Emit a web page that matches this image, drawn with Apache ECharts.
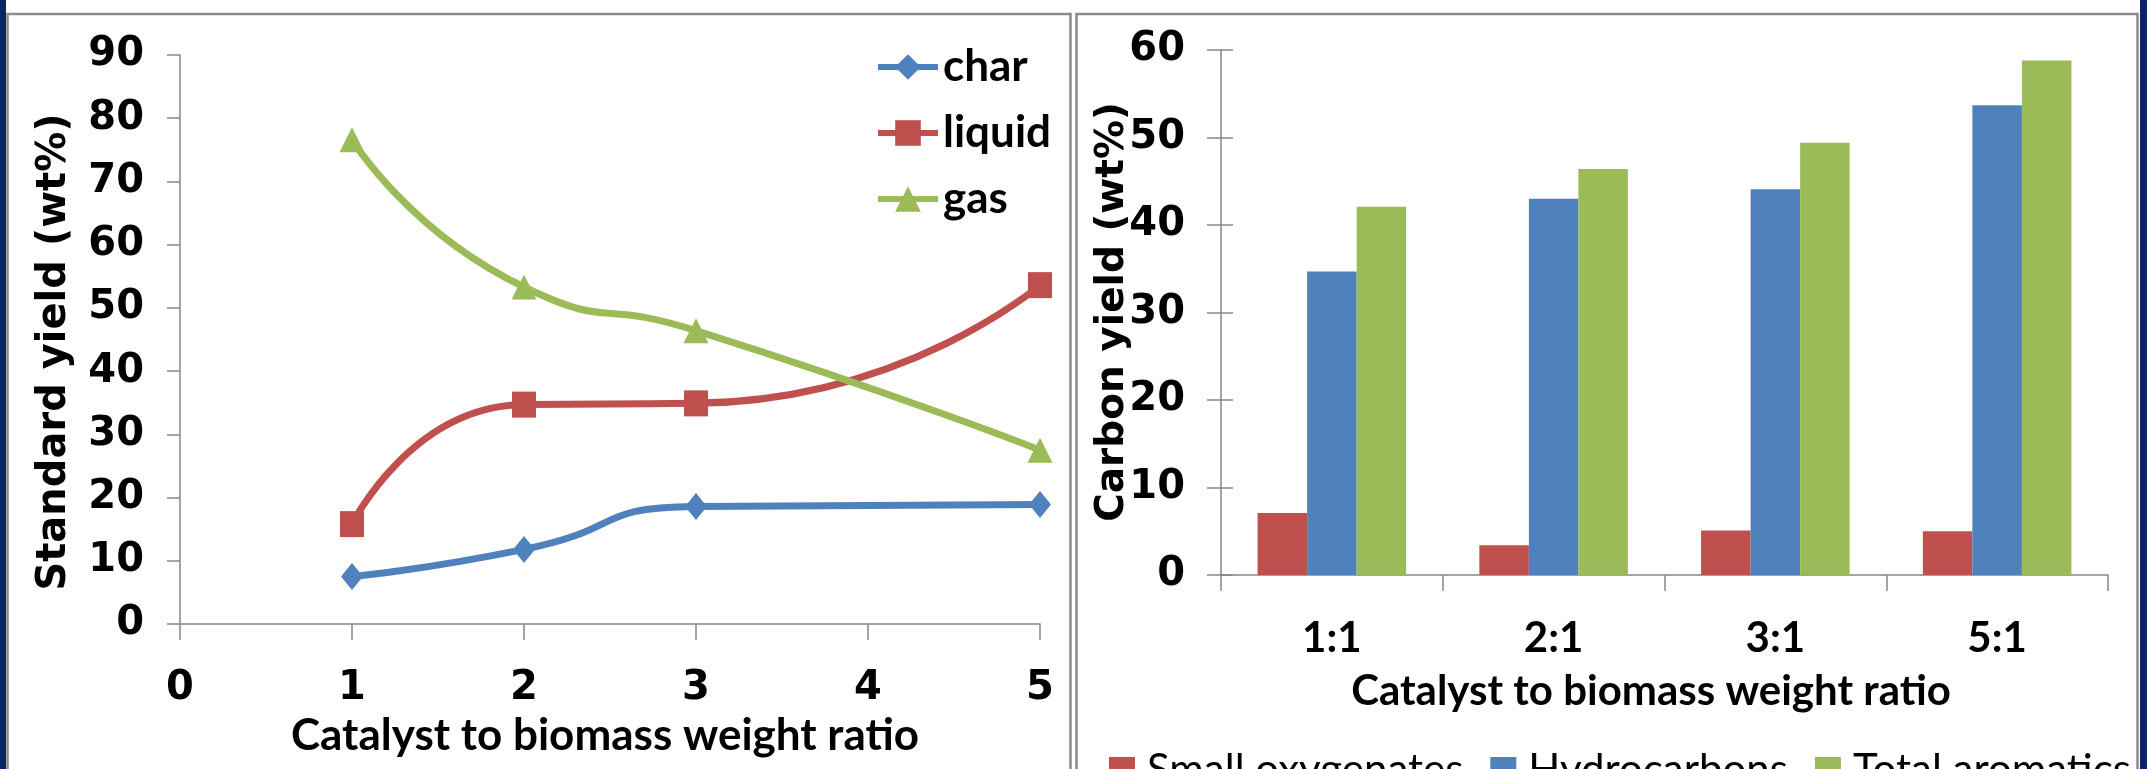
<!DOCTYPE html>
<html>
<head>
<meta charset="utf-8">
<script src="https://cdn.jsdelivr.net/npm/echarts@6/dist/echarts.min.js"></script>
<style>
html,body{margin:0;padding:0;background:#fff;}
#chart{width:2147px;height:769px;}
</style>
</head>
<body>
<div id="chart"></div>
<script>
// ---- Left chart data ----
const ratioX = [1, 2, 3, 5];
const charVals = [7.5, 11.8, 18.6, 18.9];
const liquidVals = [15.8, 34.7, 34.9, 53.6];
const gasVals = [76.6, 53.3, 46.4, 27.5];
const lineNames = ['char', 'liquid', 'gas'];

// ---- Right chart data ----
const categories = ['1:1', '2:1', '3:1', '5:1'];
const smallOxygenates = [7.1, 3.4, 5.1, 5.0];
const hydrocarbons = [34.7, 43.0, 44.1, 53.7];
const totalAromatics = [42.1, 46.4, 49.4, 58.8];
const barNames = ['Small oxygenates', 'Hydrocarbons', 'Total aromatics'];

// ---- Titles ----
const leftYTitle = 'Standard yield (wt%)';
const rightYTitle = 'Carbon yield (wt%)';
const xTitle = 'Catalyst to biomass weight ratio';

const BLUE = '#4F81BD', RED = '#C0504D', GREEN = '#9BBB59';
const AXIS = '#868686';
const TICKFONT = 'DejaVu Sans';

const chart = echarts.init(document.getElementById('chart'));

function pairs(xs, ys) { return xs.map((x, i) => [x, ys[i]]); }

const tickLabel = { color: '#000', fontFamily: TICKFONT, fontWeight: 'bold', fontSize: 40 };

const option = {
  backgroundColor: '#fff',
  animation: false,
  grid: [
    { left: 180, top: 55, width: 860, height: 569, containLabel: false },
    { left: 1221, top: 50, width: 887, height: 525, containLabel: false }
  ],
  xAxis: [
    {
      type: 'value', gridIndex: 0, min: 0, max: 5, interval: 1,
      axisLine: { lineStyle: { color: AXIS, width: 1.5 } },
      axisTick: { show: true, inside: false, length: 16, lineStyle: { color: AXIS, width: 1.5 } },
      splitLine: { show: false },
      axisLabel: Object.assign({ margin: 45 }, tickLabel)
    },
    {
      type: 'category', gridIndex: 1, data: categories,
      axisLine: { lineStyle: { color: AXIS, width: 1.5 } },
      axisTick: { show: true, inside: false, length: 16, alignWithLabel: false, lineStyle: { color: AXIS, width: 1.5 } },
      axisLabel: { margin: 42, color: '#000', fontFamily: 'Lato', fontWeight: 'bold', fontSize: 42 }
    }
  ],
  yAxis: [
    {
      type: 'value', gridIndex: 0, min: 0, max: 90, interval: 10,
      axisLine: { show: true, lineStyle: { color: AXIS, width: 1.5 } },
      axisTick: { show: true, inside: false, length: 13, lineStyle: { color: AXIS, width: 1.5 } },
      splitLine: { show: false },
      axisLabel: Object.assign({ margin: 36 }, tickLabel)
    },
    {
      type: 'value', gridIndex: 1, min: 0, max: 60, interval: 10, position: 'left',
      axisLine: { show: true, lineStyle: { color: AXIS, width: 1.5 } },
      axisTick: { show: true, inside: false, length: 14, lineStyle: { color: AXIS, width: 1.5 } },
      splitLine: { show: false },
      axisLabel: Object.assign({ margin: 36 }, tickLabel)
    },
    {
      type: 'value', gridIndex: 1, min: 0, max: 60, interval: 10, position: 'left', offset: 0,
      axisLine: { show: false },
      axisTick: { show: true, inside: true, length: 12, lineStyle: { color: AXIS, width: 1.5 } },
      splitLine: { show: false },
      axisLabel: { show: false }
    }
  ],
  legend: [
    {
      data: lineNames,
      orient: 'vertical', left: 870, top: 40,
      itemWidth: 60, itemHeight: 32, itemGap: 22,
      lineStyle: { width: 6 },
      textStyle: { color: '#000', fontFamily: 'Lato', fontWeight: 'bold', fontSize: 44, lineHeight: 26 }
    },
    {
      data: barNames,
      orient: 'horizontal', left: 1104, top: 744,
      itemWidth: 26, itemHeight: 26, itemGap: 27,
      icon: 'rect',
      textStyle: { color: '#000', fontFamily: 'Lato', fontSize: 42, lineHeight: 26, padding: [0, 0, 0, 7] }
    }
  ],
  series: [
    {
      name: 'char', type: 'line', xAxisIndex: 0, yAxisIndex: 0,
      data: pairs(ratioX, charVals), smooth: 0.6,
      symbol: 'diamond', symbolSize: [22, 27],
      lineStyle: { color: BLUE, width: 7 }, itemStyle: { color: BLUE }
    },
    {
      name: 'liquid', type: 'line', xAxisIndex: 0, yAxisIndex: 0,
      data: pairs(ratioX, liquidVals), smooth: 0.6,
      symbol: 'rect', symbolSize: [24, 26],
      lineStyle: { color: RED, width: 7 }, itemStyle: { color: RED }
    },
    {
      name: 'gas', type: 'line', xAxisIndex: 0, yAxisIndex: 0,
      data: pairs(ratioX, gasVals), smooth: 0.6,
      symbol: 'triangle', symbolSize: [25, 25],
      lineStyle: { color: GREEN, width: 7 }, itemStyle: { color: GREEN }
    },
    {
      name: 'Small oxygenates', type: 'bar', xAxisIndex: 1, yAxisIndex: 1,
      data: smallOxygenates, barGap: '0%', barCategoryGap: '33%',
      itemStyle: { color: RED }
    },
    {
      name: 'Hydrocarbons', type: 'bar', xAxisIndex: 1, yAxisIndex: 1,
      data: hydrocarbons, barGap: '0%', barCategoryGap: '33%',
      itemStyle: { color: BLUE }
    },
    {
      name: 'Total aromatics', type: 'bar', xAxisIndex: 1, yAxisIndex: 1,
      data: totalAromatics, barGap: '0%', barCategoryGap: '33%',
      itemStyle: { color: GREEN }
    }
  ],
  graphic: [
    { type: 'rect', z: -10, shape: { x: 0, y: 0, width: 6, height: 769 }, style: { fill: '#0B2468' } },
    { type: 'rect', z: -10, shape: { x: 2140, y: 0, width: 7, height: 769 }, style: { fill: '#0B2468' } },
    { type: 'rect', z: -10, shape: { x: 7.5, y: 14, width: 1063, height: 800 }, style: { fill: '#fff', stroke: '#8C8C8C', lineWidth: 2.5 } },
    { type: 'rect', z: -10, shape: { x: 1076.5, y: 14, width: 1061, height: 800 }, style: { fill: '#fff', stroke: '#8C8C8C', lineWidth: 2.5 } },
    {
      type: 'text', x: 55, y: 352, rotation: Math.PI / 2,
      style: { text: leftYTitle, x: 0, y: 0, font: 'bold 40px "DejaVu Sans"', fill: '#000', textAlign: 'center', textVerticalAlign: 'middle', align: 'center', verticalAlign: 'middle' }
    },
    {
      type: 'text', x: 1113, y: 312, rotation: Math.PI / 2,
      style: { text: rightYTitle, x: 0, y: 0, font: 'bold 39px "DejaVu Sans"', fill: '#000', textAlign: 'center', textVerticalAlign: 'middle', align: 'center', verticalAlign: 'middle' }
    },
    {
      type: 'text', x: 605, y: 758,
      style: { text: xTitle, x: 0, y: 0, font: 'bold 44px Lato', fill: '#000', textAlign: 'center', textVerticalAlign: 'bottom', align: 'center', verticalAlign: 'bottom' }
    },
    {
      type: 'text', x: 1651, y: 712,
      style: { text: xTitle, x: 0, y: 0, font: 'bold 42px Lato', fill: '#000', textAlign: 'center', textVerticalAlign: 'bottom', align: 'center', verticalAlign: 'bottom' }
    }
  ]
};
chart.setOption(option);
</script>
</body>
</html>
